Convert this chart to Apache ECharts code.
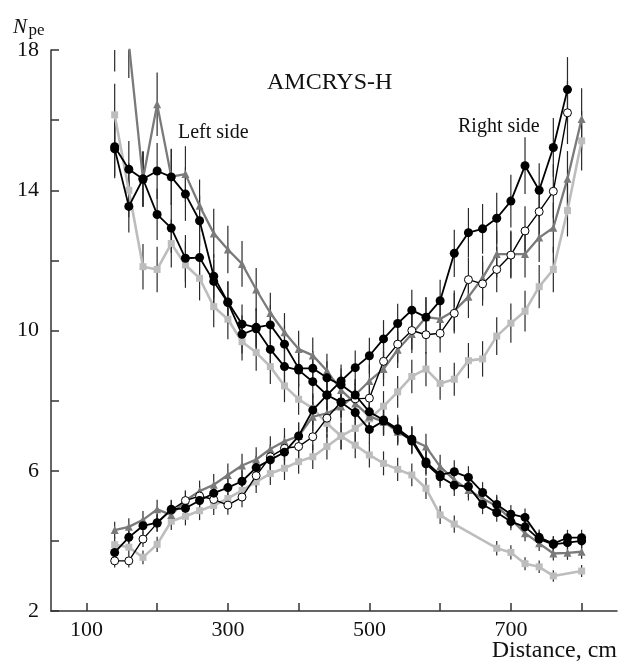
<!DOCTYPE html>
<html><head><meta charset="utf-8">
<script src="https://cdn.jsdelivr.net/npm/echarts@6/dist/echarts.min.js"></script>
<style>html,body{margin:0;padding:0;background:#fff}#c{width:620px;height:662px}</style>
</head><body><div id="c"></div>
<script>
// distance positions of the measurements (cm)
const distance = [140,160,180,200,220,240,260,280,300,320,340,360,380,400,420,440,460,480,500,520,540,560,580,600,620,640,660,680,700,720,740,760,780,800];

// Left side (decreasing)
const leftBlackA  = [15.24,14.6,14.32,14.55,14.38,13.89,13.13,11.55,10.81,10.18,10.09,10.16,9.61,8.92,8.92,8.65,8.45,8.16,7.68,7.45,7.2,6.9,6.25,5.88,5.97,5.81,5.38,5.04,4.76,4.67,4.1,3.92,4.09,4.09];
const leftBlackB  = [15.18,13.54,14.32,13.31,12.92,12.06,12.08,11.4,10.8,9.89,10.05,9.46,8.97,8.87,8.54,8.16,7.95,7.66,7.18,7.42,7.15,6.85,6.2,5.83,5.59,5.55,5.04,4.81,4.55,4.4,4.05,3.9,3.95,4.0];
const leftTriangle = [18.4,18.2,14.32,16.45,14.39,14.46,13.56,12.77,12.31,11.9,11.17,10.5,9.95,9.47,9.29,8.85,8.3,7.92,7.55,7.4,7.11,6.88,6.69,6.12,5.74,5.45,5.21,4.99,4.62,4.22,3.93,3.64,3.66,3.69];
const leftSquare  = [16.15,14.0,11.82,11.74,12.48,11.87,11.49,10.68,10.32,9.68,9.37,8.97,8.42,8.04,7.78,7.35,6.99,6.73,6.45,6.21,6.04,5.88,5.5,4.74,4.48,null,null,3.79,3.67,3.35,3.26,3.0,null,3.14];

// Right side (increasing)
const rightBlack  = [3.67,4.1,4.43,4.52,4.9,4.93,5.15,5.36,5.52,5.7,6.09,6.31,6.53,6.99,7.73,8.16,8.56,8.94,9.28,9.76,10.2,10.58,10.38,10.85,12.2,12.79,12.9,13.2,13.69,14.7,14.0,15.22,16.87,null];
const rightOpen   = [3.43,3.43,4.05,4.5,4.88,5.15,5.28,5.18,5.02,5.25,5.86,6.4,6.64,6.69,6.97,7.5,7.97,8.05,8.07,9.12,9.61,10.0,9.88,9.92,10.49,11.45,11.33,11.74,12.15,12.84,13.39,13.97,16.21,null];
const rightTriangle = [4.31,4.4,4.6,4.9,4.74,5.15,5.42,5.6,5.88,6.15,6.32,6.62,6.84,6.99,7.54,7.64,7.83,8.16,8.56,8.9,9.45,9.9,10.38,10.33,10.56,10.96,11.5,12.18,12.18,12.18,12.65,12.93,14.33,16.03];
const rightSquare = [3.89,3.82,3.53,3.9,4.56,4.7,4.86,5.01,5.21,5.44,5.68,5.92,6.07,6.26,6.4,6.69,6.99,7.21,7.48,7.84,8.25,8.69,8.9,8.49,8.61,9.14,9.19,9.84,10.21,10.55,11.25,11.74,13.42,15.41];

// axis ticks / labels
const xTickValues  = [100,200,300,400,500,600,700,800];
const xLabelValues = [100,300,500,700];
const yTickValues  = [2,4,6,8,10,12,14,16,18];
const yLabelValues = [2,6,10,14,18];
const ERR_FRACTION = 0.055; // relative half-length of the error bars

const X_MIN = 50, X_MAX = 850, Y_MIN = 2, Y_MAX = 18;
const SERIF = "'Liberation Serif','Times New Roman',serif";

function pairs(vals){ const out=[]; vals.forEach((v,i)=>{ if(v!==null) out.push([distance[i], v]); }); return out; }

const styles = {
  black:   {line:{color:'#000',width:1.8}, symbol:'circle', size:9, item:{color:'#000',borderColor:'#000',borderWidth:0}, z:6},
  open:    {line:{color:'#000',width:1.4}, symbol:'circle', size:8, item:{color:'#fff',borderColor:'#000',borderWidth:1}, z:5},
  tri:     {line:{color:'#7a7a7a',width:2.3}, symbol:'triangle', size:8, item:{color:'#7a7a7a',borderWidth:0}, z:4},
  square:  {line:{color:'#bdbdbd',width:2.6}, symbol:'rect', size:7, item:{color:'#bdbdbd',borderWidth:0}, z:3}
};

const seriesDefs = [
  ['Left black A', leftBlackA, 'black'],
  ['Left black B', leftBlackB, 'black'],
  ['Left triangle', leftTriangle, 'tri'],
  ['Left square', leftSquare, 'square'],
  ['Right black', rightBlack, 'black'],
  ['Right open', rightOpen, 'open'],
  ['Right triangle', rightTriangle, 'tri'],
  ['Right square', rightSquare, 'square']
];

const errData = [];
seriesDefs.forEach(d => pairs(d[1]).forEach(p => errData.push(p)));

const series = [{
  type:'custom', name:'errors', z:1, silent:true,
  data: errData,
  renderItem: function(params, api){
    const x = api.value(0), y = api.value(1), e = y*ERR_FRACTION;
    let lo = y - e, hi = y + e;
    if (lo > Y_MAX || hi < Y_MIN) return null;
    lo = Math.max(lo, Y_MIN); hi = Math.min(hi, Y_MAX);
    const a = api.coord([x, lo]), b = api.coord([x, hi]);
    return {type:'line', shape:{x1:a[0], y1:a[1], x2:b[0], y2:b[1]}, style:{stroke:'#2a2a2a', lineWidth:1.2}};
  }
}];

seriesDefs.forEach(d => {
  const s = styles[d[2]];
  series.push({
    type:'line', name:d[0], data:pairs(d[1]), z:s.z, clip:true,
    symbol:s.symbol, symbolSize:s.size, showAllSymbol:true,
    lineStyle:s.line, itemStyle:s.item, emphasis:{disabled:true}
  });
});

const chart = echarts.init(document.getElementById('c'), null, {renderer:'canvas'});
chart.setOption({
  animation:false,
  backgroundColor:'#fff',
  grid:{left:51, right:3, top:50, bottom:51, containLabel:false},
  xAxis:{
    type:'value', min:X_MIN, max:X_MAX,
    axisLine:{show:true, onZero:false, lineStyle:{color:'#333', width:1.5}},
    axisTick:{show:true, inside:true, length:8, customValues:xTickValues, lineStyle:{color:'#333', width:1.5}},
    axisLabel:{customValues:xLabelValues, margin:8, color:'#111', fontSize:22, fontFamily:SERIF},
    splitLine:{show:false}
  },
  yAxis:{
    type:'value', min:Y_MIN, max:Y_MAX, interval:2,
    axisLine:{show:true, onZero:false, lineStyle:{color:'#333', width:1.5}},
    axisTick:{show:true, inside:true, length:8, customValues:yTickValues, lineStyle:{color:'#333', width:1.5}},
    axisLabel:{customValues:yLabelValues, margin:12, color:'#111', fontSize:22, fontFamily:SERIF},
    splitLine:{show:false}
  },
  graphic:[
    {type:'text', x:13, y:27.5, style:{text:'N', font:'italic 21px '+SERIF, fill:'#111', textAlign:'left', textVerticalAlign:'middle'}},
    {type:'text', x:28.5, y:31, style:{text:'pe', font:'17px '+SERIF, fill:'#111', textAlign:'left', textVerticalAlign:'middle'}},
    {type:'text', x:267, y:82.5, style:{text:'AMCRYS-H', font:'24px '+SERIF, fill:'#111', textAlign:'left', textVerticalAlign:'middle'}},
    {type:'text', x:178, y:132.7, style:{text:'Left side', font:'20px '+SERIF, fill:'#111', textAlign:'left', textVerticalAlign:'middle'}},
    {type:'text', x:458, y:126.7, style:{text:'Right side', font:'20px '+SERIF, fill:'#111', textAlign:'left', textVerticalAlign:'middle'}},
    {type:'text', x:617, y:650.5, style:{text:'Distance, cm', font:'24px '+SERIF, fill:'#111', textAlign:'right', textVerticalAlign:'middle'}}
  ],
  series: series
});
</script></body></html>
